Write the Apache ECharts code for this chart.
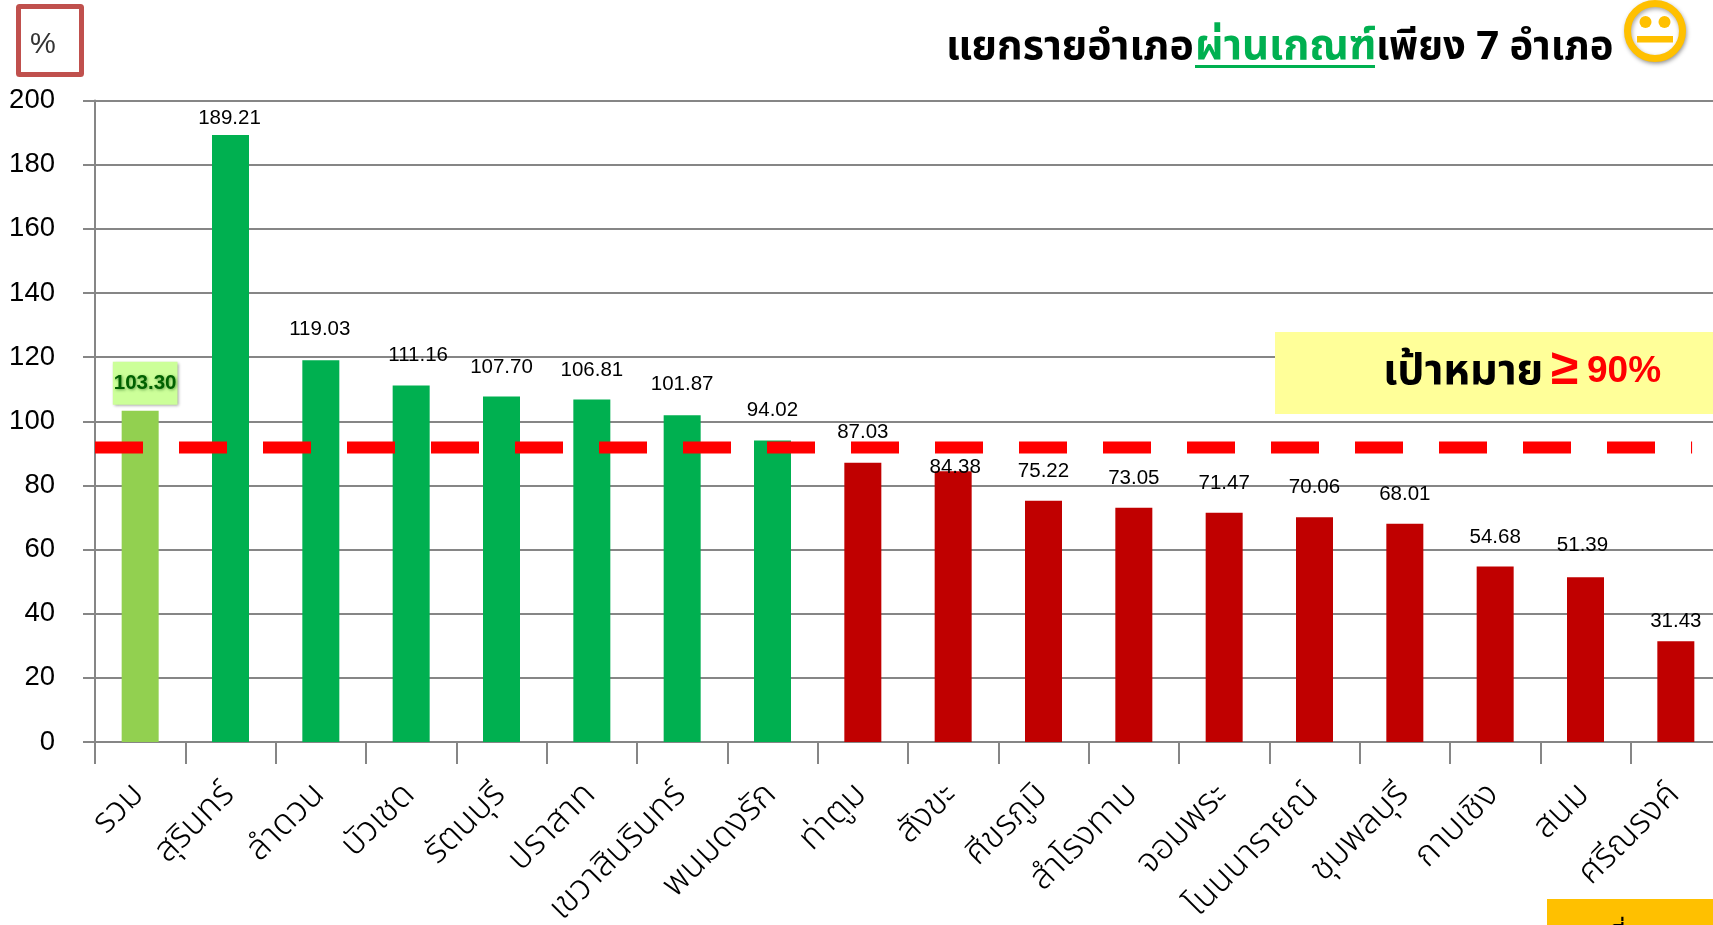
<!DOCTYPE html>
<html><head><meta charset="utf-8">
<style>html,body{margin:0;padding:0;background:#fff}#c{width:1713px;height:925px}</style>
<script src="https://cdn.jsdelivr.net/npm/echarts@6/dist/echarts.min.js"></script>
</head><body><div id="c"></div>
<script>
const categories=['รวม','สุรินทร์','ลำดวน','บัวเชด','รัตนบุรี','ปราสาท','เขวาสินรินทร์','พนมดงรัก','ท่าตูม','สังขะ','ศีขรภูมิ','สำโรงทาบ','จอมพระ','โนนนารายณ์','ชุมพลบุรี','กาบเชิง','สนม','ศรีณรงค์'];
const values=[103.30,189.21,119.03,111.16,107.70,106.81,101.87,94.02,87.03,84.38,75.22,73.05,71.47,70.06,68.01,54.68,51.39,31.43];
const targetLineValue=91.8;
const targetLineSpan=[0,17.68];
const yTicks={min:0,max:200,interval:20};
const labelNudge=[[5,1],[-1,1],[-1,-13],[7,-13],[0,-12],[0,-12],[0,-13],[0,-13],[0,-13],[2,13],[0,-12],[0,-12],[0,-12],[0,-12],[0,-12],[0,-12],[-3,-14],[0,-2]];
const FONT='"Liberation Sans",Arial,sans-serif';
const THAI='"Noto Sans Thai","Noto Sans",sans-serif';
const barColor=i=>i===0?'#92D050':(values[i]>=90?'#00B050':'#C00000');
const barData=values.map((v,i)=>{
  const d={value:v,itemStyle:{color:barColor(i)},label:{offset:labelNudge[i]}};
  if(i===0){d.label={offset:labelNudge[0],fontWeight:'bold',color:'#006100',backgroundColor:'#CCFF99',padding:[11,1,11,1],
    textShadowColor:'rgba(0,80,0,.5)',textShadowBlur:3,textShadowOffsetX:1,textShadowOffsetY:1,
    shadowColor:'rgba(0,0,0,.4)',shadowBlur:3,shadowOffsetX:1,shadowOffsetY:1};}
  return d;
});
const face={cx:1655,cy:31};
const txt=(x,y,t,o)=>({type:'text',x,y,z:20,style:Object.assign({text:t,fill:'#000',font:'bold 41px '+THAI,textVerticalAlign:'middle',verticalAlign:'middle'},o||{})});
const option={
  animation:false,backgroundColor:'#fff',
  grid:{left:95,top:100.5,width:1626,height:641.5,containLabel:false,outerBoundsMode:'none'},
  xAxis:[{type:'category',data:categories,
      axisLine:{lineStyle:{color:'#868686',width:2}},
      axisTick:{show:true,length:22,lineStyle:{color:'#868686',width:2}},
      axisLabel:{interval:0,rotate:45,margin:49,padding:[4,0,0,0],color:'#000',fontSize:35,fontWeight:300,fontFamily:THAI,hideOverlap:false},
      splitLine:{show:false}},
    {type:'value',min:0,max:18,show:false}],
  yAxis:{type:'value',min:yTicks.min,max:yTicks.max,interval:yTicks.interval,
      axisLine:{show:true,lineStyle:{color:'#868686',width:2}},
      axisTick:{show:true,length:12,lineStyle:{color:'#868686',width:2}},
      axisLabel:{color:'#000',fontSize:27.5,fontFamily:FONT,margin:40},
      splitLine:{lineStyle:{color:'#868686',width:2}}},
  series:[
    {type:'bar',data:barData,barWidth:37,z:3,
     label:{show:true,position:'top',distance:7,fontSize:20.5,fontFamily:FONT,color:'#000',formatter:p=>p.value.toFixed(2)}},
    {type:'line',xAxisIndex:1,data:targetLineSpan.map(x=>[x,targetLineValue]),symbol:'none',z:6,silent:true,
     lineStyle:{color:'#FF0000',width:12,type:[48,36],cap:'butt'}}
  ],
  graphic:[
    {type:'rect',z:20,shape:{x:18.5,y:6.5,width:63,height:68,r:1},style:{fill:'#fff',stroke:'#C0504D',lineWidth:5}},
    {type:'text',z:21,x:43,y:45,style:{text:'%',font:'29px '+FONT,fill:'#333',textAlign:'center',textVerticalAlign:'middle',verticalAlign:'middle'}},
    txt(946,51,'แยกรายอำเภอ'),
    txt(1195,51,'ผ่านเกณฑ์',{fill:'#00B050',font:'bold 42px '+THAI}),
    txt(1376,51,'เพียง 7 อำเภอ',{font:'bold 40px '+THAI}),
    {type:'rect',z:20,shape:{x:1195,y:65,width:180,height:3},style:{fill:'#00B050'}},
    {type:'circle',z:20,shape:{cx:face.cx,cy:face.cy,r:27.5},style:{fill:'#fff',stroke:'#FFC000',lineWidth:7,shadowColor:'rgba(0,0,0,.35)',shadowBlur:4,shadowOffsetX:1,shadowOffsetY:2}},
    {type:'circle',z:21,shape:{cx:face.cx-9.5,cy:face.cy-9,r:6},style:{fill:'#FFC000'}},
    {type:'circle',z:21,shape:{cx:face.cx+9.5,cy:face.cy-9,r:6},style:{fill:'#FFC000'}},
    {type:'rect',z:21,shape:{x:face.cx-18,y:face.cy+5,width:36,height:6.5},style:{fill:'#FFC000'}},
    {type:'rect',z:10,shape:{x:1275,y:332,width:438,height:82},style:{fill:'#FFFF99'}},
    txt(1383,375,'เป้าหมาย',{font:'bold 43px '+THAI}),
    txt(1551,370,'≥',{font:'bold 50px '+FONT,fill:'#FF0000'}),
    txt(1587,372,'90%',{font:'bold 37px '+FONT,fill:'#FF0000'}),
    {type:'rect',z:10,shape:{x:1547,y:899,width:166,height:26},style:{fill:'#FFC000'}},
    txt(1610,938,'ที่มา :',{font:'26px '+THAI,z:11})
  ]
};
echarts.init(document.getElementById('c'),null,{renderer:'canvas'}).setOption(option);
</script></body></html>
